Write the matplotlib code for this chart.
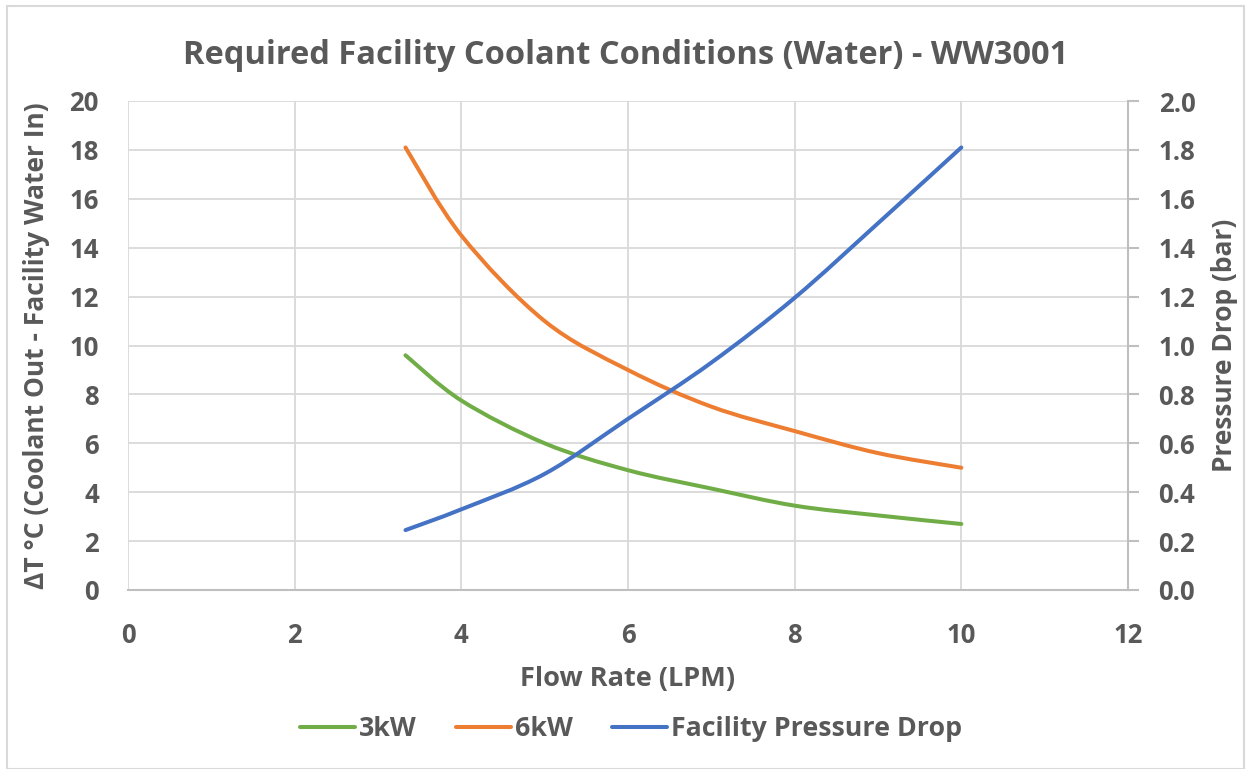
import numpy as np
import matplotlib
matplotlib.use("Agg")
import matplotlib.pyplot as plt
from matplotlib.path import Path
from matplotlib.patches import PathPatch, Rectangle
from matplotlib.lines import Line2D

# ---- data ----
flow_lpm = [3.33, 4, 5, 6, 7, 8, 9, 10]
dt_3kw = [9.6, 7.75, 6.0, 4.9, 4.15, 3.45, 3.05, 2.7]
dt_6kw = [18.1, 14.5, 11.0, 9.0, 7.5, 6.5, 5.6, 5.0]
pressure_bar = [0.245, 0.33, 0.475, 0.70, 0.93, 1.195, 1.5, 1.81]
x_ticks = [0, 2, 4, 6, 8, 10, 12]
y_ticks = [0, 2, 4, 6, 8, 10, 12, 14, 16, 18, 20]
y2_ticks = [0.0, 0.2, 0.4, 0.6, 0.8, 1.0, 1.2, 1.4, 1.6, 1.8, 2.0]

TXT = "#595959"
FONT = "Open Sans"
plt.rcParams["font.family"] = [FONT, "DejaVu Sans"]


def smooth_path(xs, ys):
    """Excel-like smoothed line: Catmull-Rom converted to cubic Bezier segments."""
    pts = np.column_stack([xs, ys]).astype(float)
    n = len(pts)
    verts = [pts[0]]
    codes = [Path.MOVETO]
    for i in range(n - 1):
        p0 = pts[i - 1] if i > 0 else pts[i]
        p1 = pts[i]
        p2 = pts[i + 1]
        p3 = pts[i + 2] if i + 2 < n else pts[i + 1]
        c1 = p1 + (p2 - p0) / 6.0
        c2 = p2 - (p3 - p1) / 6.0
        verts += [c1, c2, p2]
        codes += [Path.CURVE4] * 3
    return Path(verts, codes)


fig = plt.figure(figsize=(12.46, 7.69), dpi=100)
ax = fig.add_axes([128 / 1246, 1 - 590 / 769, 1000 / 1246, 489 / 769])
ax2 = ax.twinx()

# chart border
fig.patches.append(Rectangle((7 / 1246, 0.0), 1237 / 1246, 1 - 6 / 769,
                             transform=fig.transFigure, fill=False,
                             edgecolor="#D9D9D9", linewidth=1.5))

LW = 2.9
c_green, c_orange, c_blue = "#70AD47", "#ED7D31", "#4472C4"
ax.add_patch(PathPatch(smooth_path(flow_lpm, dt_3kw), fill=False, edgecolor=c_green,
                       linewidth=LW, capstyle="round", zorder=3))
ax.add_patch(PathPatch(smooth_path(flow_lpm, dt_6kw), fill=False, edgecolor=c_orange,
                       linewidth=LW, capstyle="round", zorder=3))
ax2.add_patch(PathPatch(smooth_path(flow_lpm, pressure_bar), fill=False, edgecolor=c_blue,
                        linewidth=LW, capstyle="round", zorder=3))

ax.set_xlim(0, 12)
ax.set_ylim(0, 20)
ax2.set_ylim(0, 2.0)
ax.set_xticks(x_ticks)
ax.set_yticks(y_ticks)
ax2.set_yticks(y2_ticks)
ax2.set_yticklabels([f"{v:.1f}" for v in y2_ticks])

ax.grid(True, color="#D9D9D9", linewidth=1.3)
ax.set_axisbelow(True)

for s in ["top", "right", "left"]:
    ax.spines[s].set_visible(False)
for s in ["top", "left", "bottom"]:
    ax2.spines[s].set_visible(False)
ax.spines["bottom"].set_color("#BFBFBF")
ax.spines["bottom"].set_linewidth(1.5)
ax2.spines["right"].set_color("#BFBFBF")
ax2.spines["right"].set_linewidth(1.5)

FS = 18.5
ax.tick_params(axis="x", length=0, pad=23, labelsize=FS, labelcolor=TXT)
ax.tick_params(axis="y", length=0, pad=21, labelsize=FS, labelcolor=TXT)
ax2.tick_params(axis="y", length=8, width=1.5, color="#BFBFBF", direction="out",
                pad=14, labelsize=FS, labelcolor=TXT)
for lab in ax.get_xticklabels() + ax.get_yticklabels() + ax2.get_yticklabels():
    lab.set_fontweight("bold")

ax.set_xlabel("Flow Rate (LPM)", fontsize=19.5, color=TXT, fontweight="bold", labelpad=12)
ax.set_ylabel("ΔT °C (Coolant Out - Facility Water In)", fontsize=19, color=TXT,
              fontweight="bold", labelpad=14)
ax2.set_ylabel("Pressure Drop (bar)", fontsize=19, color=TXT, fontweight="bold", labelpad=11)

fig.text(626 / 1246, 1 - 55 / 769, "Required Facility Coolant Conditions (Water) - WW3001",
         ha="center", va="center", fontsize=23.5, color=TXT, fontweight="bold")

handles = [Line2D([], [], color=c, linewidth=LW, solid_capstyle="round")
           for c in (c_green, c_orange, c_blue)]
leg = fig.legend(handles, ["3kW", "6kW", "Facility Pressure Drop"], loc="center",
                 bbox_to_anchor=(631 / 1246, 1 - 729 / 769), ncol=3, frameon=False,
                 handlelength=2.05, handletextpad=0.15, columnspacing=1.45,
                 prop={"family": FONT, "size": 19.3, "weight": "bold"})
for t in leg.get_texts():
    t.set_color(TXT)

fig.savefig("out.png", dpi=100)
